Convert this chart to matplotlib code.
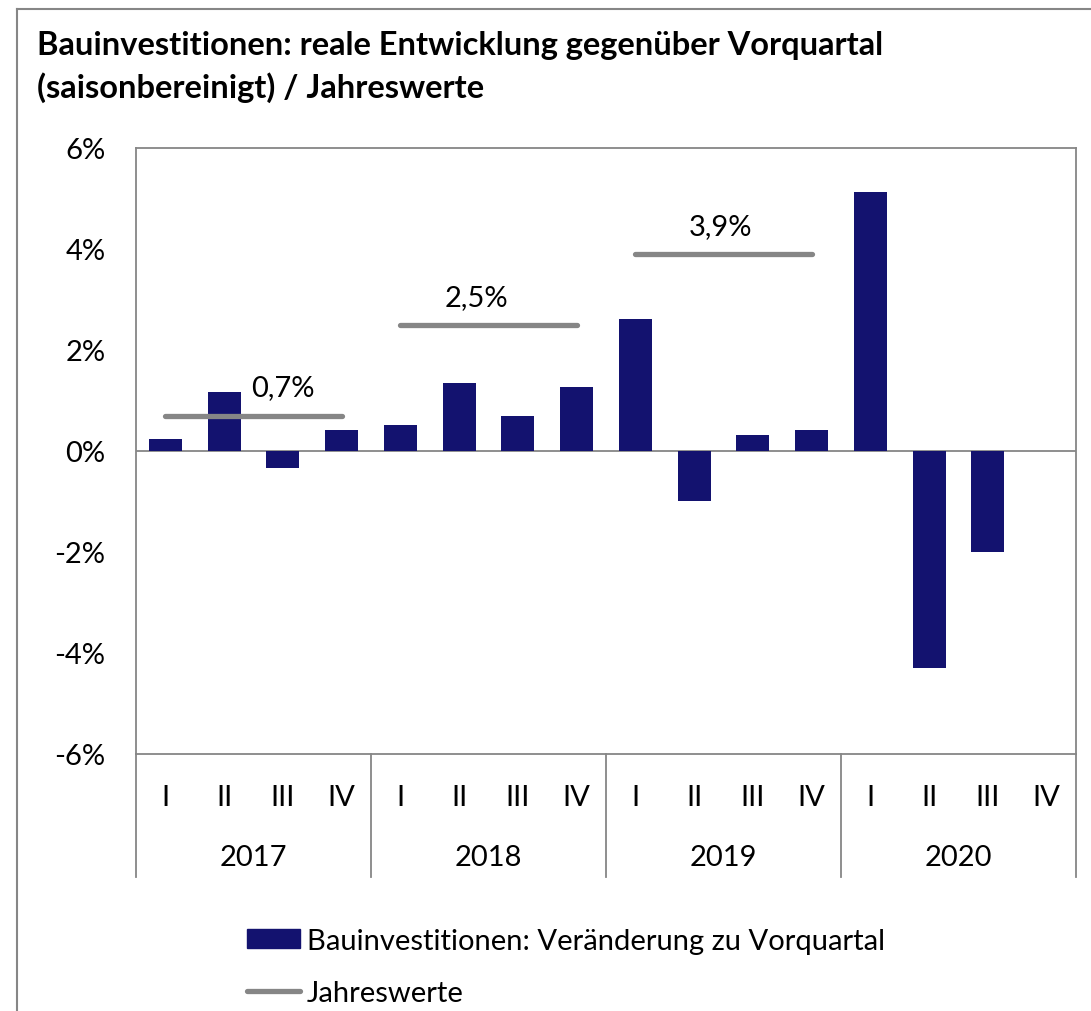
import numpy as np
import matplotlib
matplotlib.use("Agg")
import matplotlib.pyplot as plt
from matplotlib.patches import Patch
from matplotlib.lines import Line2D
import matplotlib.transforms as mtransforms

plt.rcParams['font.family'] = ['Lato', 'DejaVu Sans']
plt.rcParams['axes.unicode_minus'] = False

years = ["2017", "2018", "2019", "2020"]
quarters = ["I", "II", "III", "IV"]
# Veränderung zum Vorquartal in %
veraenderung = [0.23, 1.17, -0.34, 0.42,
                0.51, 1.34, 0.70, 1.26,
                2.61, -0.99, 0.32, 0.42,
                5.13, -4.30, -2.00, np.nan]
jahreswerte = [0.7, 2.5, 3.9]
jahres_labels = ["0,7%", "2,5%", "3,9%"]
label_x = [2.0, 5.3, 9.45]

navy = '#13126f'
grey = '#868686'
fs = 21

fig = plt.figure(figsize=(10.91, 10.12), dpi=100)
ax = fig.add_axes([136 / 1091, 1 - 755 / 1012, 940 / 1091, 606 / 1012])

x = np.arange(len(veraenderung))
ax.bar(x, veraenderung, width=0.56, color=navy, zorder=3)
ax.axhline(0, color=grey, lw=1.3, zorder=2)

for i, (val, lab) in enumerate(zip(jahreswerte, jahres_labels)):
    ax.plot([4 * i, 4 * i + 3], [val, val], color=grey, lw=3.8,
            solid_capstyle='round', zorder=4)
    ax.text(label_x[i], val + 0.3, lab, ha='center', va='bottom', fontsize=fs)

ax.set_xlim(-0.5, 15.5)
ax.set_ylim(-6, 6)
ax.set_yticks(np.arange(-6, 7, 2))
ax.set_yticklabels([f"{v}%" for v in range(-6, 7, 2)], fontsize=fs)
ax.tick_params(axis='y', length=0, pad=22)
ax.set_xticks([])
for s in ax.spines.values():
    s.set_color(grey)
    s.set_linewidth(1.3)

# category axis: quarters and years
trans = mtransforms.blended_transform_factory(ax.transData, ax.transAxes)
for i in range(len(veraenderung)):
    ax.text(i, -0.071, quarters[i % 4], transform=trans, ha='center',
            va='center', fontsize=fs)
for j, y in enumerate(years):
    ax.text(4 * j + 1.5, -0.17, y, transform=trans, ha='center',
            va='center', fontsize=fs)
for b in [-0.5, 3.5, 7.5, 11.5, 15.5]:
    ax.plot([b, b], [0, -0.203], transform=trans, color=grey, lw=1.3,
            clip_on=False)

fig.text(37 / 1091, 1 - 45 / 1012,
         "Bauinvestitionen: reale Entwicklung gegenüber Vorquartal",
         fontsize=23.5, fontweight='bold', va='center')
fig.text(37 / 1091, 1 - 88 / 1012, "(saisonbereinigt) / Jahreswerte",
         fontsize=23.5, fontweight='bold', va='center')

# outer frame
fig.add_artist(Line2D([17 / 1091, 17 / 1091], [0, 1 - 10 / 1012],
                      color=grey, lw=1.5))
fig.add_artist(Line2D([17 / 1091, 1], [1 - 10 / 1012, 1 - 10 / 1012],
                      color=grey, lw=1.5))

handles = [Patch(color=navy), Line2D([], [], color=grey, lw=3.8,
                                     solid_capstyle='round')]
fig.legend(handles, ["Bauinvestitionen: Veränderung zu Vorquartal", "Jahreswerte"],
           loc='upper left', bbox_to_anchor=(247 / 1091, 1 - 929 / 1012),
           frameon=False, fontsize=fs, handlelength=1.8, handletextpad=0.25,
           handleheight=0.6, labelspacing=0.9, borderaxespad=0, borderpad=0)

plt.savefig("out.png", dpi=100)
plt.close()
